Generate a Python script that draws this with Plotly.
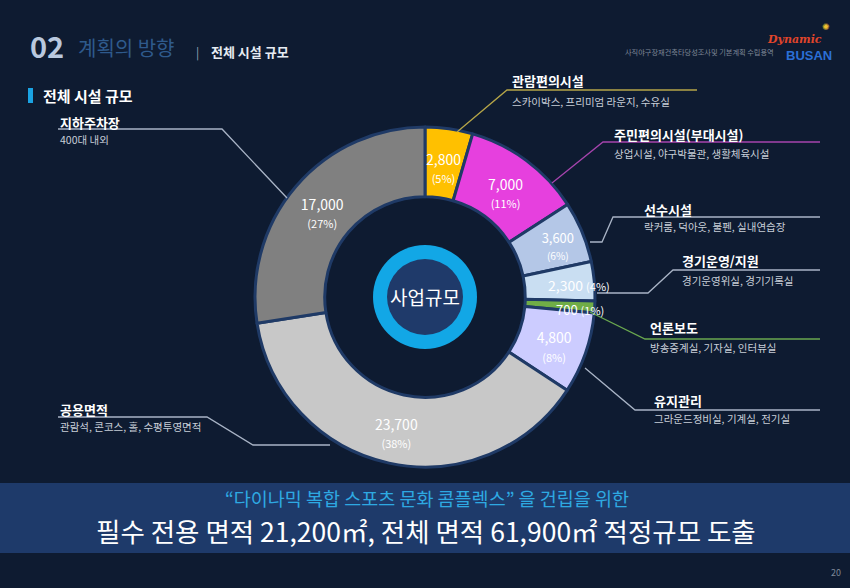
import math
import plotly.graph_objects as go

# ---------------- data ----------------
categories = ["관람편의시설", "주민편의시설(부대시설)", "선수시설", "경기운영/지원",
              "언론보도", "유지관리", "공용면적", "지하주차장"]
values = [2800, 7000, 3600, 2300, 700, 4800, 23700, 17000]
descriptions = ["스카이박스, 프리미엄 라운지, 수유실",
                "상업시설, 야구박물관, 생활체육시설",
                "락커룸, 덕아웃, 불펜, 실내연습장",
                "경기운영위실, 경기기록실",
                "방송중계실, 기자실, 인터뷰실",
                "그라운드정비실, 기계실, 전기실",
                "관람석, 콘코스, 홀, 수평투영면적",
                "400대 내외"]
center_label = "사업규모"
banner_line1 = "“다이나믹 복합 스포츠 문화 콤플렉스” 을 건립을 위한"
banner_line2 = "필수 전용 면적 21,200㎡, 전체 면적 61,900㎡ 적정규모 도출"

# ---------------- styles ----------------
slice_colors = ["#ffc000", "#e640de", "#b4c7e7", "#c9def2", "#70ad47",
                "#ccccff", "#c8c8c8", "#808080"]
text_pos = ["none", "inside", "inside", "none", "none", "inside", "inside", "inside"]
# for slices labelled outside the library's inside-text: (radius px, layout, dy)
manual_labels = {0: (131, "stack", 0), 3: (155, "inline", 3), 4: (155, "inline", 3)}
line_colors = ["#b5a548", "#a644ad", "#a9b4c6", "#a9b4c6", "#6aa84f",
               "#a9b4c6", "#a9b4c6", "#a9b4c6"]
# callout geometry in pixels: (title x, title y, sub y, leader polyline)
callouts = [
    (510, 81, 101, [(697, 90), (507, 90), (457, 132)]),
    (612, 134, 153, [(820, 142), (603, 142), (552, 183)]),
    (642, 209, 227, [(820, 217), (613, 217), (602, 242), (590, 242)]),
    (680, 260, 281, [(820, 270), (673, 270), (648, 293), (597, 293)]),
    (648, 327, 347, [(820, 339), (645, 339), (590, 312)]),
    (652, 400, 418, [(820, 410), (635, 410), (585, 368)]),
    (58, 409, 426, [(58, 417), (207, 417), (253, 445), (330, 445)]),
    (58, 122, 139, [(58, 129), (222, 129), (287, 198)]),
]

W, H = 850, 588
BG = "#0e1b31"
FONT = "Noto Sans CJK KR"
CX, CY, R = 425, 297, 170


def px(x):
    return x / W


def py(y):
    return 1 - y / H


def ann(x, y, text, size, color, xanchor="center", family=FONT):
    return dict(x=px(x), y=py(y), xref="paper", yref="paper", xanchor=xanchor,
                yanchor="middle", showarrow=False, text=text,
                font=dict(color=color, size=size, family=family))


total = sum(values)
texts = [f"<span style='font-size:4px'> </span><br>{v:,}<br>"
         f"<span style='font-size:11px'>({round(100*v/total)}%)</span>" for v in values]

fig = go.Figure()
fig.add_trace(go.Pie(
    labels=categories, values=values, text=texts, texttemplate="%{text}",
    textposition=text_pos, insidetextorientation="horizontal",
    textfont=dict(color="white", size=14, family=FONT),
    hole=0.59, sort=False, direction="clockwise", rotation=0,
    marker=dict(colors=slice_colors, line=dict(color="#1f3a66", width=3)),
    domain=dict(x=[px(CX - R), px(CX + R)], y=[py(CY + R), py(CY - R)]),
    showlegend=False, hoverinfo="label+value+percent",
))

shapes = []
annotations = []

# banner
shapes.append(dict(type="rect", xref="paper", yref="paper", x0=0, x1=1,
                   y0=py(553), y1=py(483), fillcolor="#1e3a6a", line=dict(width=0), layer="below"))

# center circle
for rad, col in [(52, "#12a7e6"), (38, "#1f3a6a")]:
    shapes.append(dict(type="circle", xref="paper", yref="paper",
                       x0=px(CX - rad), x1=px(CX + rad), y0=py(CY + rad), y1=py(CY - rad),
                       fillcolor=col, line=dict(width=0)))
annotations.append(ann(CX, CY, center_label, 19, "white"))

# labels for narrow slices, placed at slice mid-angle
cum = 0
for i, v in enumerate(values):
    mid = (cum + v / 2) / total * 2 * math.pi
    cum += v
    if i in manual_labels:
        rr, mode, dy = manual_labels[i]
        x = CX + rr * math.sin(mid)
        y = CY - rr * math.cos(mid) + dy
        pct = f"({round(100*v/total)}%)"
        if mode == "stack":
            txt = f"{v:,}<br><span style='font-size:11px'>{pct}</span>"
        else:
            txt = f"{v:,} <span style='font-size:11px'>{pct}</span>"
        fs = 14 if v > 1000 else 13
        annotations.append(ann(x, y, txt, fs, "white"))

# callouts
for i, (tx, ty, sy, pts) in enumerate(callouts):
    path = "M " + " L ".join(f"{px(a):.5f},{py(b):.5f}" for a, b in pts)
    shapes.append(dict(type="path", xref="paper", yref="paper", path=path,
                       line=dict(color=line_colors[i], width=1.3)))
    annotations.append(ann(tx, ty, f"<b>{categories[i]}</b>", 13, "white", "left"))
    annotations.append(ann(tx, sy, descriptions[i], 10.5, "#c8ced8", "left"))

# header
annotations += [
    ann(28, 45, "<b>02</b>", 29, "#b9c8de", "left"),
    ann(76, 47, "계획의 방향", 20, "#2e5a8c", "left"),
    ann(197, 52, "|", 12, "#9aa6b8"),
    ann(209, 52, "<b>전체 시설 규모</b>", 13, "#e6ebf2", "left"),
    ann(41, 95, "<b>전체 시설 규모</b>", 15, "white", "left"),
    ann(776, 52, "사직야구장재건축타당성조사및 기본계획 수립용역", 7.2, "#7f8898", "right"),
    ann(794, 39, "<b><i>Dynamic</i></b>", 11, "#e0452b", family="DejaVu Serif"),
    ann(809, 55, "<b>BUSAN</b>", 13, "#2b6fd6", family="Liberation Sans"),
    ann(826, 27, "✺", 9, "#f2c12e", family="DejaVu Sans"),
    ann(427, 498, banner_line1, 18.5, "#2ea9e2"),
    ann(426, 530, banner_line2, 26.5, "white"),
    ann(836, 572, "20", 9, "#7f8898"),
]
shapes.append(dict(type="rect", xref="paper", yref="paper", x0=px(28), x1=px(33),
                   y0=py(103), y1=py(88), fillcolor="#1aa3e3", line=dict(width=0)))

fig.update_layout(
    width=W, height=H, margin=dict(l=0, r=0, t=0, b=0),
    paper_bgcolor=BG, plot_bgcolor=BG,
    shapes=shapes, annotations=annotations,
    font=dict(family=FONT),
)
fig.write_html("out.html")
